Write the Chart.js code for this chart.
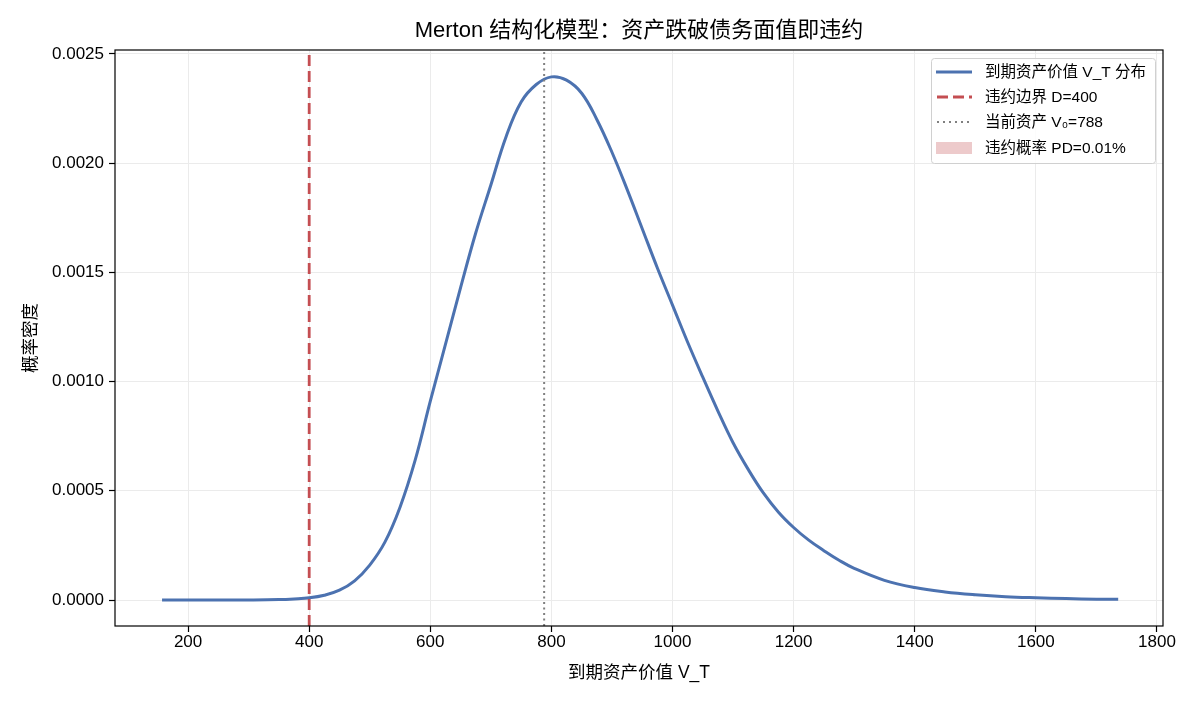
<!DOCTYPE html>
<html>
<head>
<meta charset="utf-8">
<script src="https://cdn.jsdelivr.net/npm/chart.js@4.4.1/dist/chart.umd.min.js"></script>
<style>
  html, body { margin: 0; padding: 0; background: #fff; }
</style>
</head>
<body>
<canvas id="mertonChart" width="1196" height="702"></canvas>
<script>
// Merton structural model: density of terminal asset value vs default barrier.

const assetValues = [157, 200, 250, 300, 350, 375, 400, 425, 450, 475, 500, 525, 550, 575, 600,
  625, 650, 675, 700, 725, 750, 775, 800, 825, 850, 875, 900, 925, 950, 975, 1000, 1025, 1050,
  1075, 1100, 1125, 1150, 1175, 1200, 1225, 1250, 1275, 1300, 1350, 1400, 1450, 1500, 1550,
  1600, 1650, 1700, 1736];
const densityValues = [0, 0, 0, 0.0000003, 0.000002, 0.000005, 0.00001, 0.000022, 0.000045,
  0.000088, 0.00016, 0.000265, 0.000425, 0.00064, 0.00091, 0.00117, 0.00143, 0.00168, 0.0019,
  0.00212, 0.00228, 0.00236, 0.002395, 0.00238, 0.00232, 0.0022, 0.00205, 0.00188, 0.0017,
  0.00152, 0.00135, 0.00118, 0.00102, 0.000865, 0.00072, 0.000598, 0.00049, 0.000402, 0.000332,
  0.000274, 0.000226, 0.000182, 0.000145, 0.00009, 0.000057, 0.000037, 0.000024, 0.000015,
  0.00001, 0.0000065, 0.000004, 0.000003];
const xTickValues = [200, 400, 600, 800, 1000, 1200, 1400, 1600, 1800];
const yTickValues = [0, 0.0005, 0.001, 0.0015, 0.002, 0.0025];
const defaultBarrier = 400;
const currentAsset = 788;
const seriesLabels = ["到期资产价值 V_T 分布", "违约边界 D=400", "当前资产 V₀=788", "违约概率 PD=0.01%"];
const chartTitle = "Merton 结构化模型：资产跌破债务面值即违约";

const X_MIN = 79.3, X_MAX = 1810;
const Y_MIN = -0.000119, Y_MAX = 0.002518;

const FONT = '"Liberation Sans", Arial, "Noto Sans CJK SC", sans-serif';
const BLUE = "#4c72b0";
const RED = "#c44e52";
const GREY = "#808080";
const PINK = "rgba(196, 78, 82, 0.3)";

Chart.defaults.color = "#000";
Chart.defaults.font.family = FONT;

const curvePoints = assetValues.map((x, i) => ({ x, y: densityValues[i] }));
const tailPoints = curvePoints.filter(p => p.x <= defaultBarrier);

// title centred over the axes (not the whole canvas)
const axesTitle = {
  id: "axesTitle",
  afterDraw(chart) {
    const { ctx, chartArea: a } = chart;
    ctx.save();
    ctx.fillStyle = "#000";
    ctx.font = "22px " + FONT;
    ctx.textAlign = "center";
    ctx.textBaseline = "middle";
    ctx.fillText(chartTitle, (a.left + a.right) / 2, 31);
    ctx.restore();
  }
};

// legend drawn inside the axes, upper right
const boxLegend = {
  id: "boxLegend",
  afterDraw(chart) {
    const ctx = chart.ctx;
    const x0 = 931, y0 = 58, w = 224, h = 105;
    ctx.save();
    ctx.fillStyle = "rgba(255,255,255,0.85)";
    ctx.strokeStyle = "#d0d0d0";
    ctx.lineWidth = 1;
    ctx.beginPath();
    ctx.roundRect(x0 + 0.5, y0 + 0.5, w, h, 3);
    ctx.fill();
    ctx.stroke();

    const rows = [72, 97, 122, 148];
    const hx0 = 936, hx1 = 972;
    ctx.lineCap = "butt";
    ctx.strokeStyle = BLUE; ctx.lineWidth = 3; ctx.setLineDash([]);
    ctx.beginPath(); ctx.moveTo(hx0, rows[0]); ctx.lineTo(hx1, rows[0]); ctx.stroke();
    ctx.strokeStyle = RED; ctx.lineWidth = 2.8; ctx.setLineDash([11, 5]);
    ctx.beginPath(); ctx.moveTo(hx0 + 1, rows[1]); ctx.lineTo(hx1, rows[1]); ctx.stroke();
    ctx.strokeStyle = GREY; ctx.lineWidth = 2; ctx.setLineDash([2, 4]);
    ctx.beginPath(); ctx.moveTo(hx0 + 1, rows[2]); ctx.lineTo(hx1, rows[2]); ctx.stroke();
    ctx.setLineDash([]);
    ctx.fillStyle = PINK;
    ctx.fillRect(hx0, rows[3] - 6, hx1 - hx0, 12);

    ctx.fillStyle = "#000";
    ctx.font = "15.5px " + FONT;
    ctx.textBaseline = "middle";
    ctx.textAlign = "left";
    seriesLabels.forEach((t, i) => ctx.fillText(t, 985, rows[i] + 1));
    ctx.restore();
  }
};

// full black frame round the axes
const frame = {
  id: "frame",
  afterDatasetsDraw(chart) {
    const { ctx, chartArea: a } = chart;
    ctx.save();
    ctx.strokeStyle = "#000";
    ctx.lineWidth = 1.2;
    ctx.strokeRect(a.left, a.top, a.right - a.left, a.bottom - a.top);
    ctx.restore();
  }
};

new Chart(document.getElementById("mertonChart"), {
  type: "line",
  data: {
    datasets: [
      {
        label: seriesLabels[1],
        data: [{ x: defaultBarrier, y: Y_MIN }, { x: defaultBarrier, y: Y_MAX }],
        borderColor: RED, borderWidth: 2.8, borderDash: [11, 5],
        pointRadius: 0, fill: false, order: 0
      },
      {
        label: seriesLabels[2],
        data: [{ x: currentAsset, y: Y_MIN }, { x: currentAsset, y: Y_MAX }],
        borderColor: GREY, borderWidth: 2, borderDash: [2, 3.5],
        pointRadius: 0, fill: false, order: 1
      },
      {
        label: seriesLabels[0],
        data: curvePoints,
        borderColor: BLUE, borderWidth: 3,
        pointRadius: 0, fill: false, tension: 0.4, order: 2
      },
      {
        label: seriesLabels[3],
        data: tailPoints,
        borderWidth: 0, borderColor: "rgba(0,0,0,0)", backgroundColor: PINK,
        pointRadius: 0, fill: "origin", tension: 0.4, order: 3
      }
    ]
  },
  options: {
    responsive: false,
    animation: false,
    devicePixelRatio: 1,
    layout: { padding: { left: 0, right: 33, top: 50, bottom: 0 } },
    plugins: {
      legend: { display: false },
      tooltip: { enabled: false },
      title: { display: false }
    },
    scales: {
      x: {
        type: "linear",
        min: X_MIN, max: X_MAX,
        afterBuildTicks: s => { s.ticks = xTickValues.map(v => ({ value: v })); },
        afterFit: s => { s.height = 76; },
        ticks: { font: { size: 17 }, padding: 0, maxRotation: 0, color: "#000", callback: v => String(v) },
        grid: { color: "#ebebeb", lineWidth: 1, tickColor: "#000", tickLength: 6, tickWidth: 1.2 },
        border: { display: false },
        title: {
          display: true, text: "到期资产价值 V_T", color: "#000",
          font: { size: 17.5 }, padding: { top: 0, bottom: 18 }
        }
      },
      y: {
        type: "linear",
        min: Y_MIN, max: Y_MAX,
        afterBuildTicks: s => { s.ticks = yTickValues.map(v => ({ value: v })); },
        afterFit: s => { s.width = 115; },
        ticks: { font: { size: 17 }, padding: 5, color: "#000", callback: v => v.toFixed(4) },
        grid: { color: "#ebebeb", lineWidth: 1, tickColor: "#000", tickLength: 6, tickWidth: 1.2 },
        border: { display: false },
        title: {
          display: true, text: "概率密度", color: "#000",
          font: { size: 17.5 }, padding: { top: 21, bottom: 0 }
        }
      }
    }
  },
  plugins: [frame, boxLegend, axesTitle]
});
</script>
</body>
</html>
